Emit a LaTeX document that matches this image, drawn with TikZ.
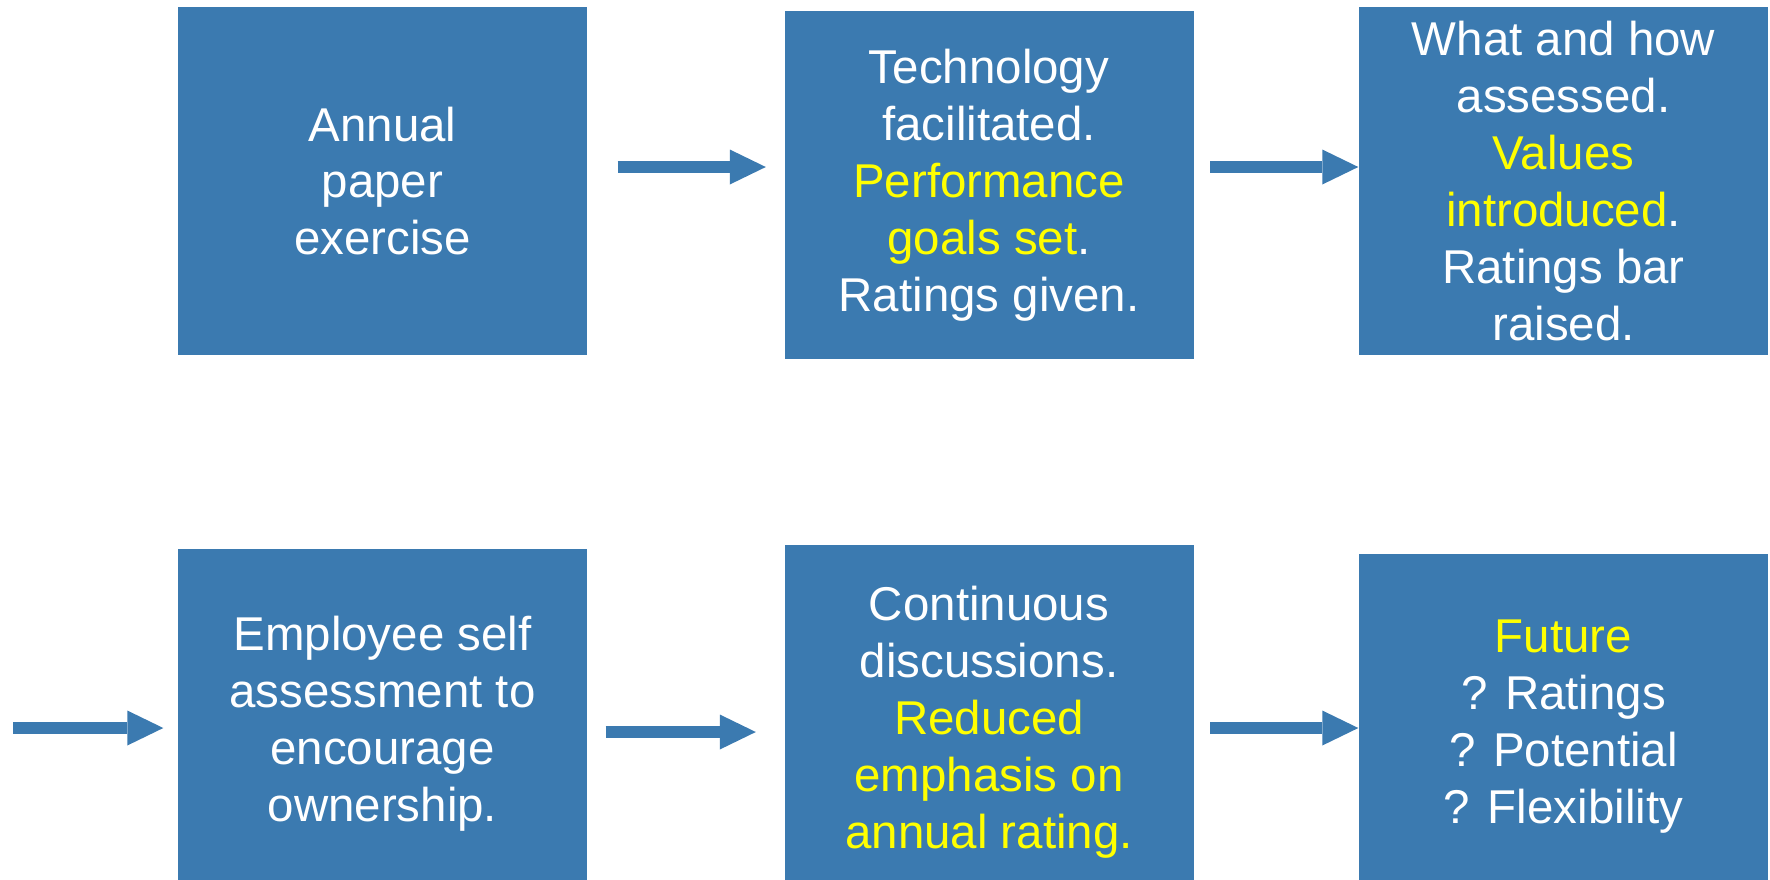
\documentclass[tikz,border=0pt]{standalone}
\usepackage{fontspec}
\setmainfont{Liberation Sans}
\usepackage{xcolor}
\usetikzlibrary{arrows.meta}

\definecolor{boxblue}{RGB}{59,122,176}
\definecolor{hilite}{RGB}{255,255,0}
\newcommand{\hl}[1]{\textcolor{hilite}{#1}}

\begin{document}
\begin{tikzpicture}[
    stage/.style={fill=boxblue, text=white, align=center, inner sep=0pt,
        minimum width=4.09cm, minimum height=3.48cm,
        font=\fontsize{13.5}{16.2}\selectfont},
    flow/.style={draw=boxblue, line width=1.2mm,
        -{Triangle[length=3.6mm, width=3.5mm, line width=0pt]}}]
    \useasboundingbox (0,0) rectangle (17.70,8.79);

    \node[stage] (b1) at (3.825,6.98) {Annual\\paper\\exercise};
    \node[stage] (b2) at (9.89,6.94) {Technology\\facilitated.\\\hl{Performance}\\\hl{goals set}.\\Ratings given.};
    \node[stage] (b3) at (15.635,6.98) {What and how\\assessed.\\\hl{Values}\\\hl{introduced}.\\Ratings bar\\raised.};

    % bottom row runs off the lower edge of the page
    \node[stage, minimum height=3.50cm] (b4) at (3.825,1.55) {Employee self\\assessment to\\encourage\\ownership.};
    \node[stage, minimum height=3.54cm] (b5) at (9.89,1.57) {Continuous\\discussions.\\\hl{Reduced}\\\hl{emphasis on}\\\hl{annual rating.}};
    \node[stage, minimum height=3.45cm] (b6) at (15.635,1.525) {\hl{Future}\\? Ratings\\? Potential\\? Flexibility};

    \coordinate (in0) at (0.13,1.51);

    \draw[flow, shorten <=3mm, shorten >=1.8mm] (b1.east |- 0,7.12) -- (b2.west |- 0,7.12);
    \draw[flow, shorten <=1.6mm] (b2.east |- 0,7.12) -- (b3.west |- 0,7.12);
    \draw[flow, shorten >=1.4mm] (in0) -- (in0 -| b4.west);
    \draw[flow, shorten <=1.8mm, shorten >=2.8mm] (b4.east |- 0,1.47) -- (b5.west |- 0,1.47);
    \draw[flow, shorten <=1.6mm] (b5.east |- 0,1.51) -- (b6.west |- 0,1.51);
\end{tikzpicture}
\end{document}
